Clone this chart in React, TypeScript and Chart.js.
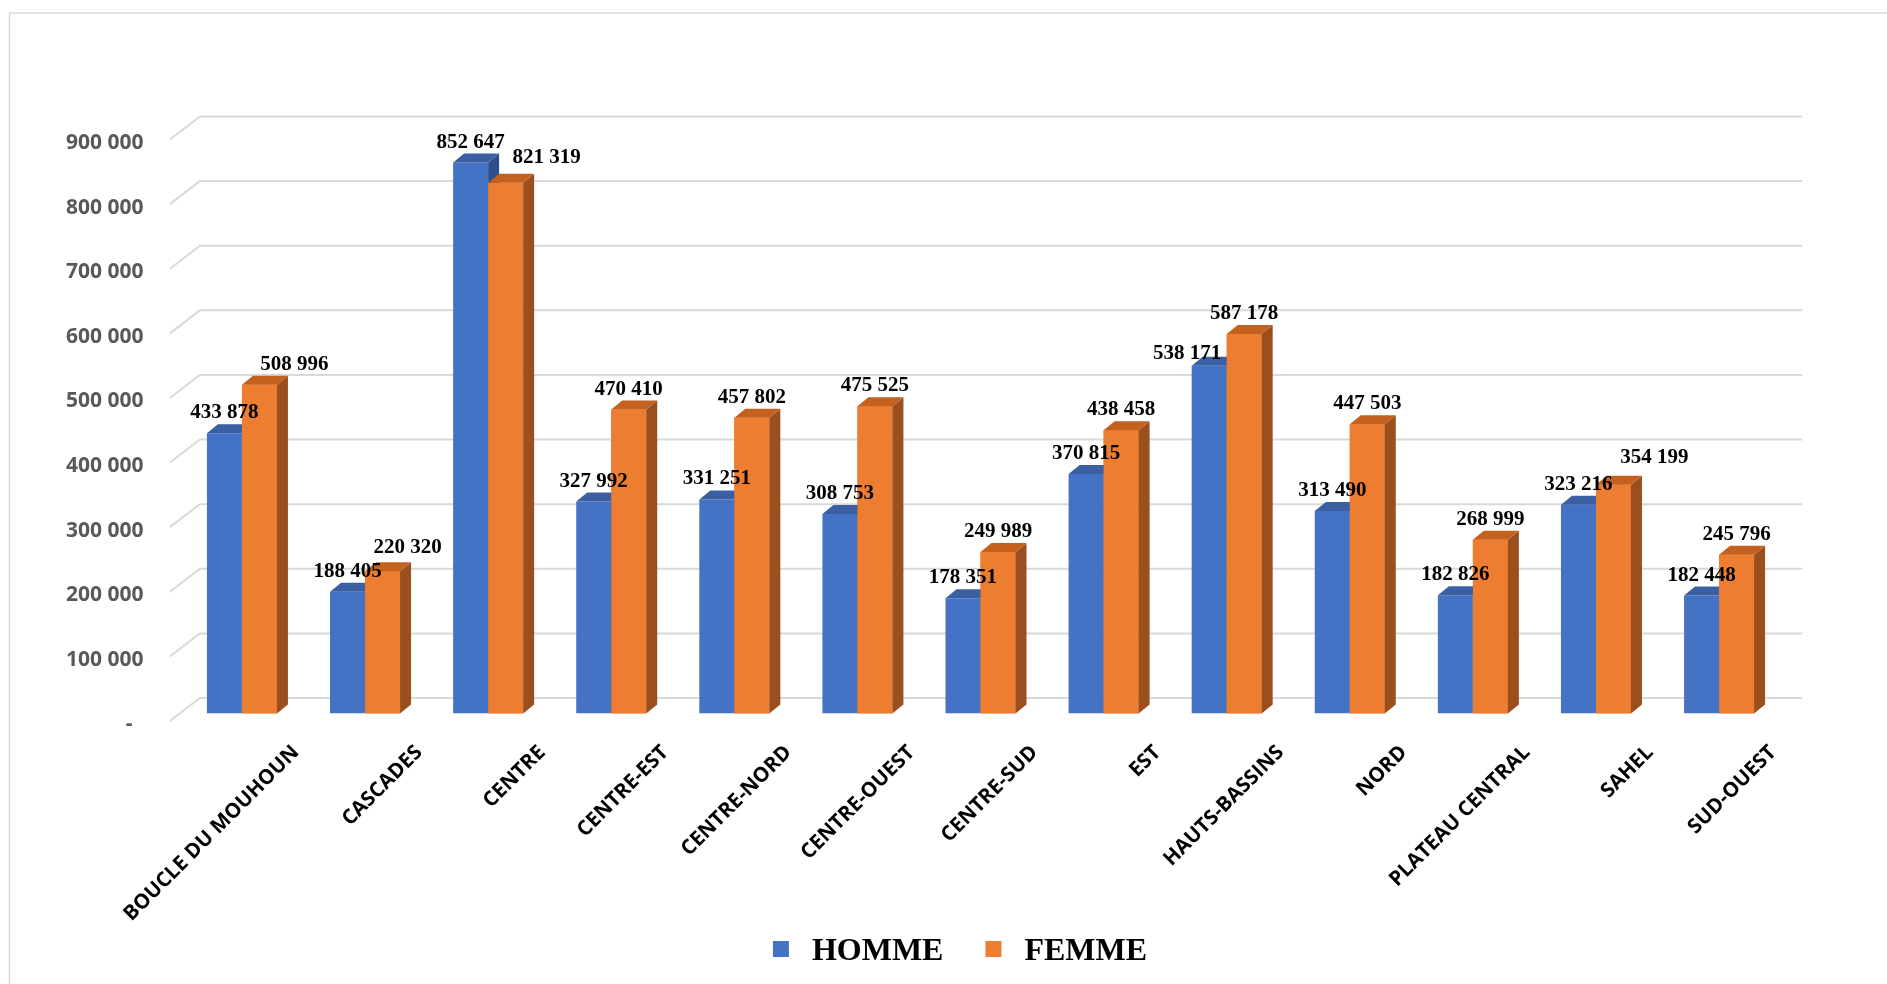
import React, { useEffect, useRef } from 'react';
import { Chart, registerables } from 'chart.js';

Chart.register(...registerables);

const categories = [
  'BOUCLE DU MOUHOUN', 'CASCADES', 'CENTRE', 'CENTRE-EST', 'CENTRE-NORD', 'CENTRE-OUEST',
  'CENTRE-SUD', 'EST', 'HAUTS-BASSINS', 'NORD', 'PLATEAU CENTRAL', 'SAHEL', 'SUD-OUEST',
];
const homme = [433878, 188405, 852647, 327992, 331251, 308753, 178351, 370815, 538171, 313490, 182826, 323216, 182448];
const femme = [508996, 220320, 821319, 470410, 457802, 475525, 249989, 438458, 587178, 447503, 268999, 354199, 245796];
const seriesNames = ['HOMME', 'FEMME'];
const yMin = 0;
const yMax = 900000;
const yStep = 100000;

const COLORS = {
  front: ['#4472c4', '#ed7d31'],
  top: ['#3a5fa2', '#c4611f'],
  side: ['#2e4f8c', '#9c4f1e'],
  grid: '#d9d9d9',
};

const fmt = (v: number) => (v === 0 ? '-' : String(v).replace(/\B(?=(\d{3})+(?!\d))/g, ' '));

const DX = 11;
const DY = 9;
const BACK = 15.5;

const excel3d = {
  id: 'excel3d',
  beforeDraw(chart: any) {
    const { ctx, width, height } = chart;
    ctx.save();
    ctx.fillStyle = '#ffffff';
    ctx.fillRect(0, 0, width, height);
    ctx.strokeStyle = COLORS.grid;
    ctx.lineWidth = 1.5;
    ctx.beginPath();
    ctx.moveTo(9.5, height + 5);
    ctx.lineTo(9.5, 13);
    ctx.lineTo(width + 5, 13);
    ctx.stroke();
    ctx.restore();
  },
  beforeDatasetsDraw(chart: any) {
    const { ctx, chartArea } = chart;
    const ys = chart.scales.y;
    ctx.save();
    ctx.strokeStyle = COLORS.grid;
    ctx.lineWidth = 2;
    ys.ticks.forEach((t: any) => {
      const yb = ys.getPixelForValue(t.value) - BACK;
      ctx.beginPath();
      ctx.moveTo(chartArea.left - 10.5, yb + 23);
      ctx.lineTo(chartArea.left + 19.5, yb);
      ctx.lineTo(chartArea.right + 21.5, yb);
      ctx.stroke();
    });
    ctx.restore();
  },
  afterDatasetsDraw(chart: any, _args: any, opts: any) {
    const { ctx } = chart;
    const metas = [chart.getDatasetMeta(0), chart.getDatasetMeta(1)];
    const poly = (pts: number[][], color: string) => {
      ctx.fillStyle = color;
      ctx.beginPath();
      ctx.moveTo(pts[0][0], pts[0][1]);
      for (let k = 1; k < pts.length; k++) ctx.lineTo(pts[k][0], pts[k][1]);
      ctx.closePath();
      ctx.fill();
    };
    ctx.save();
    categories.forEach((_c, i) => {
      metas.forEach((meta, d) => {
        const b = meta.data[i] as any;
        const xl = b.x - b.width / 2;
        const xr = b.x + b.width / 2;
        const yt = b.y;
        const base = b.base;
        if (d > 0) {
          ctx.fillStyle = COLORS.front[d];
          ctx.fillRect(xl, yt, xr - xl, base - yt);
        }
        poly([[xr, yt], [xr + DX, yt - DY], [xr + DX, base - DY], [xr, base]], COLORS.side[d]);
        poly([[xl, yt], [xr, yt], [xr + DX, yt - DY], [xl + DX, yt - DY]], COLORS.top[d]);
      });
    });
    // data labels
    ctx.font = 'bold 21px "Liberation Serif"';
    ctx.fillStyle = '#000000';
    ctx.textAlign = 'center';
    ctx.textBaseline = 'alphabetic';
    const nudges = (opts && opts.nudges) || {};
    metas.forEach((meta, d) => {
      const values = chart.data.datasets[d].data as number[];
      meta.data.forEach((b: any, i: number) => {
        const n = nudges[`${d}-${i}`] || [0, 0];
        ctx.fillText(fmt(values[i]), b.x + n[0], b.y - 15 + n[1]);
      });
    });
    ctx.restore();
  },
  afterDraw(chart: any) {
    const { ctx } = chart;
    ctx.save();
    ctx.font = 'bold 32px "Liberation Serif"';
    const box = 16;
    const gap = 23;
    const itemGap = 42;
    const names = chart.data.datasets.map((ds: any) => ds.label as string);
    const widths = names.map((n: string) => ctx.measureText(n).width);
    let total = 0;
    widths.forEach((w: number, k: number) => {
      total += box + gap + w + (k < widths.length - 1 ? itemGap : 0);
    });
    let x = 960 - total / 2;
    const baseline = 960;
    names.forEach((n: string, k: number) => {
      ctx.fillStyle = COLORS.front[k];
      ctx.fillRect(x, 941, box, box);
      ctx.fillStyle = '#000000';
      ctx.textAlign = 'left';
      ctx.textBaseline = 'alphabetic';
      ctx.fillText(n, x + box + gap, baseline);
      x += box + gap + widths[k] + itemGap;
    });
    ctx.restore();
  },
};

export default function App() {
  const ref = useRef<HTMLCanvasElement | null>(null);
  useEffect(() => {
    if (!ref.current) return;
    const chart = new Chart(ref.current, {
      type: 'bar',
      data: {
        labels: categories,
        datasets: [
          { label: seriesNames[0], data: homme, backgroundColor: COLORS.front[0], borderWidth: 0, categoryPercentage: 0.5687, barPercentage: 1 },
          { label: seriesNames[1], data: femme, backgroundColor: COLORS.front[1], borderWidth: 0, categoryPercentage: 0.5687, barPercentage: 1 },
        ],
      },
      options: {
        responsive: false,
        animation: false,
        events: [],
        layout: { padding: { top: 132, right: 106.4, bottom: 0, left: 0 } },
        plugins: {
          legend: { display: false },
          tooltip: { enabled: false },
          excel3d: {
            nudges: {
              '1-0': [35, 0],
              '1-1': [25, -3],
              '1-2': [41, -5],
              '0-8': [-22, 8],
              '1-11': [41, -7],
            },
          },
        } as any,
        scales: {
          x: {
            grid: { display: false, drawTicks: false },
            border: { display: false },
            ticks: {
              autoSkip: false,
              minRotation: 45,
              maxRotation: 45,
              labelOffset: 54,
              padding: 27,
              color: '#000000',
              font: { family: '"Open Sans"', weight: 'bold', size: 20.5 },
            },
            afterFit: (s: any) => {
              s.height = 984 - 713.5;
            },
          },
          y: {
            min: yMin,
            max: yMax,
            grid: { display: false, drawTicks: false },
            border: { display: false },
            ticks: {
              stepSize: yStep,
              padding: 37,
              labelOffset: 11,
              color: '#595959',
              font: { family: '"Open Sans"', weight: 'bold', size: 21 },
              callback: (v: any) => (Number(v) === 0 ? '-  ' : fmt(Number(v))),
            },
            afterFit: (s: any) => {
              s.width = 180.4;
            },
          },
        },
      },
      plugins: [excel3d],
    });
    return () => chart.destroy();
  }, []);
  return (
    <div style={{ position: 'fixed', left: 0, top: 0, width: 1887, height: 984, background: '#fff' }}>
      <canvas ref={ref} width={1887} height={984} />
    </div>
  );
}
